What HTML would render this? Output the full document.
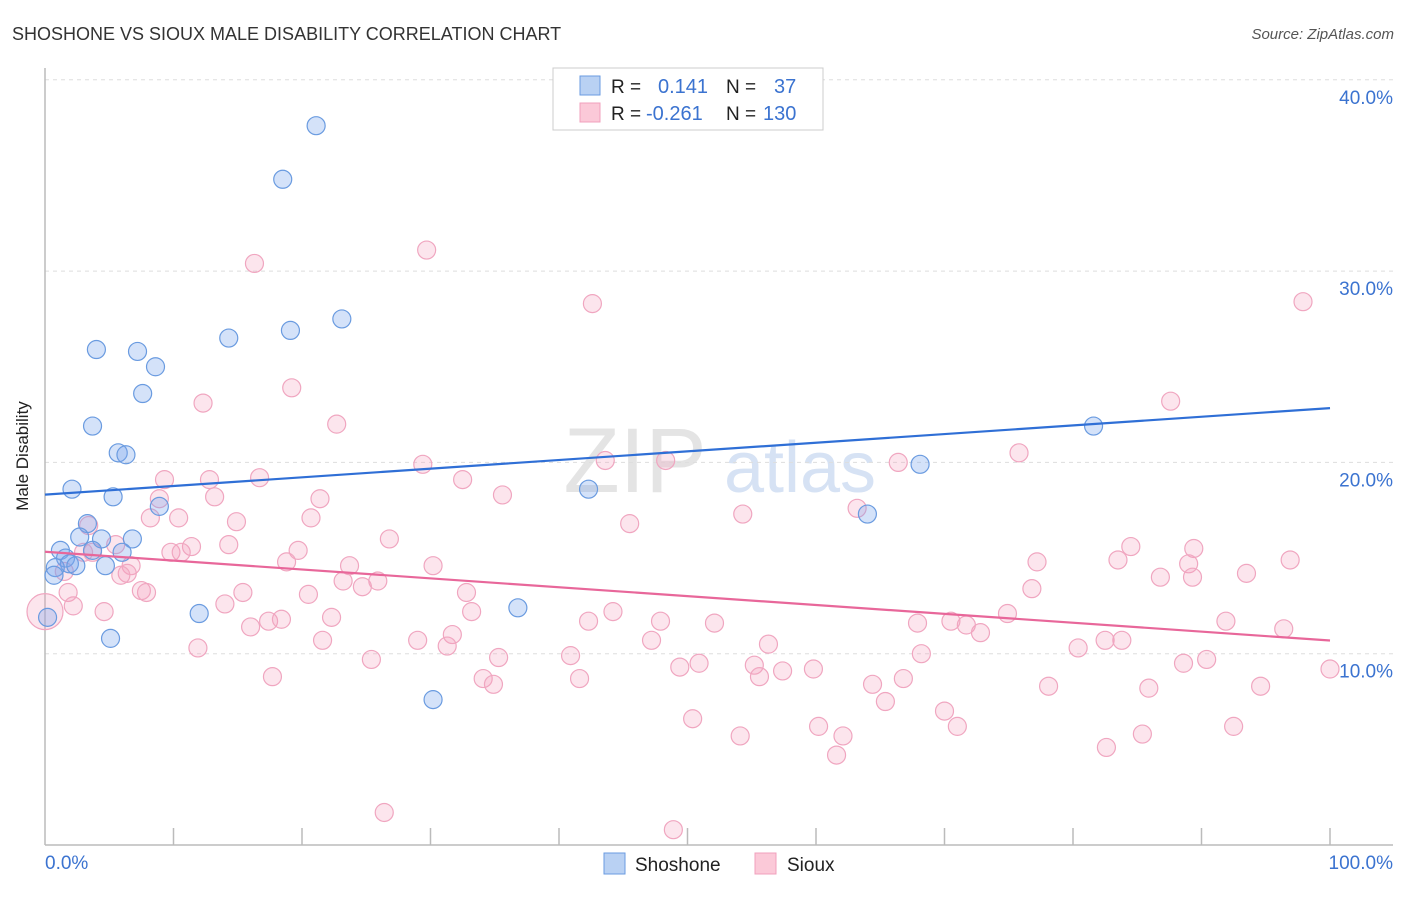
<!DOCTYPE html>
<html><head><meta charset="utf-8"><style>
body{margin:0;background:#fff;font-family:"Liberation Sans",sans-serif}
svg text{font-family:"Liberation Sans",sans-serif}
</style></head><body>
<svg id="c" width="1406" height="892" xmlns="http://www.w3.org/2000/svg">
<text x="12" y="40" font-size="18" fill="#333">SHOSHONE VS SIOUX MALE DISABILITY CORRELATION CHART</text>
<text x="1394" y="39" font-size="15" fill="#555" font-style="italic" text-anchor="end">Source: ZipAtlas.com</text>
<text x="28" y="456" font-size="17" fill="#222" transform="rotate(-90 28 456)" text-anchor="middle">Male Disability</text>
<g><text x="635" y="492" font-size="92" fill="#e4e4e4" font-family="Liberation Serif" text-anchor="middle">ZIP</text><text x="800" y="492" font-size="72" fill="#d6e2f4" text-anchor="middle">atlas</text></g>
<g id="grid"></g><g id="axes"></g><g id="pts"></g><g id="lines"></g>
<g>
<rect x="553" y="68" width="270" height="62" fill="#fff" stroke="#ccc"/>
<rect x="580" y="76" width="20" height="19" fill="#b9d1f3" stroke="#6a9be0"/>
<rect x="580" y="103" width="20" height="19" fill="#fbc9d8" stroke="#f0a0bc"/>
<text x="611" y="93" font-size="19" fill="#222">R =</text><text x="658" y="93" font-size="20" fill="#3b73d0">0.141</text>
<text x="726" y="93" font-size="19" fill="#222">N =</text><text x="774" y="93" font-size="20" fill="#3b73d0">37</text>
<text x="611" y="120" font-size="19" fill="#222">R =</text><text x="646" y="120" font-size="20" fill="#3b73d0">-0.261</text>
<text x="726" y="120" font-size="19" fill="#222">N =</text><text x="763" y="120" font-size="20" fill="#3b73d0">130</text>
</g>
<g>
<rect x="604" y="853" width="21" height="21" fill="#b9d1f3" stroke="#6a9be0"/><text x="635" y="871" font-size="19" fill="#222">Shoshone</text>
<rect x="755" y="853" width="21" height="21" fill="#fbc9d8" stroke="#f0a0bc"/><text x="787" y="871" font-size="19" fill="#222">Sioux</text>
</g>
</svg>
<script>
const shoX=[21.1,18.5,23.1,19.1,14.3,4.0,7.2,8.6,7.6,3.7,5.7,6.3,2.1,5.3,8.9,3.3,2.7,4.4,6.8,1.2,3.7,1.6,6.0,1.9,0.8,2.4,4.7,0.7,0.2,12.0,5.1,30.2,36.8,42.3,64.0,68.1,81.6];
const shoY=[37.6,34.8,27.5,26.9,26.5,25.9,25.8,25.0,23.6,21.9,20.5,20.4,18.6,18.2,17.7,16.8,16.1,16.0,16.0,15.4,15.4,15.0,15.3,14.7,14.5,14.6,14.6,14.1,11.9,12.1,10.8,7.6,12.4,18.6,17.3,19.9,21.9];
const siouxX=[16.3,29.7,42.6,97.9,19.2,12.3,22.7,87.6,75.8,66.4,48.3,43.6,29.4,32.5,35.6,16.7,12.8,9.3,8.9,13.2,21.4,63.2,54.3,45.5,8.2,10.4,14.9,20.7,26.8,3.4,11.4,14.3,19.7,9.8,10.6,5.5,3.0,1.5,3.7,23.7,30.2,83.5,84.5,89.4,77.2,89.0,96.9,18.8,6.7,6.4,5.9,86.8,89.3,93.5,76.8,23.2,25.9,24.7,7.5,7.9,15.4,20.5,32.8,1.8,2.2,4.6,14.0,22.3,33.2,44.2,74.9,91.9,96.4,16.0,17.4,18.4,42.3,47.9,52.1,67.9,70.5,71.7,72.8,31.7,29.0,21.6,31.3,47.2,56.3,82.5,83.8,11.9,25.4,35.3,40.9,49.4,50.9,55.2,57.4,59.8,68.2,80.4,88.6,90.4,17.7,34.1,34.9,41.6,55.6,64.4,66.8,78.1,85.9,94.6,65.4,70.0,50.4,60.2,71.0,54.1,62.1,82.6,85.4,92.5,61.6,26.4,48.9,100,0];
const siouxY=[30.4,31.1,28.3,28.4,23.9,23.1,22.0,23.2,20.5,20.0,20.1,20.1,19.9,19.1,18.3,19.2,19.1,19.1,18.1,18.2,18.1,17.6,17.3,16.8,17.1,17.1,16.9,17.1,16.0,16.7,15.6,15.7,15.4,15.3,15.3,15.7,15.3,14.3,15.3,14.6,14.6,14.9,15.6,15.5,14.8,14.7,14.9,14.8,14.6,14.2,14.1,14.0,14.0,14.2,13.4,13.8,13.8,13.5,13.3,13.2,13.2,13.1,13.2,13.2,12.5,12.2,12.6,11.9,12.2,12.2,12.1,11.7,11.3,11.4,11.7,11.8,11.7,11.7,11.6,11.6,11.7,11.5,11.1,11.0,10.7,10.7,10.4,10.7,10.5,10.7,10.7,10.3,9.7,9.8,9.9,9.3,9.5,9.4,9.1,9.2,10.0,10.3,9.5,9.7,8.8,8.7,8.4,8.7,8.8,8.4,8.7,8.3,8.2,8.3,7.5,7.0,6.6,6.2,6.2,5.7,5.7,5.1,5.8,6.2,4.7,1.7,0.8,9.2,12.2];
const yTicks=[10,20,30,40];
const xTickLabels=["0.0%","100.0%"];
const NS="http://www.w3.org/2000/svg";
const X0=45,X1=1330,Y0=845,YPX=19.13;
const sx=v=>X0+(X1-X0)*v/100, sy=v=>Y0-v*YPX;
function mk(p,t,a){const e=document.createElementNS(NS,t);for(const k in a)e.setAttribute(k,a[k]);document.getElementById(p).appendChild(e);return e;}
yTicks.forEach(t=>{
 const l=mk('grid','line',{x1:X0,x2:1393,y1:sy(t),y2:sy(t),stroke:'#ddd','stroke-dasharray':'4,4'});
 
 
 const tx=mk('grid','text',{x:1393,y:sy(t)+24,'font-size':19,fill:'#3b73d0','text-anchor':'end'});
 tx.textContent=t.toFixed(1)+'%';
 
 
});
mk('axes','line',{x1:X0,x2:X0,y1:68,y2:Y0,stroke:'#bbb','stroke-width':1.5});
mk('axes','line',{x1:X0,x2:1393,y1:Y0,y2:Y0,stroke:'#bbb','stroke-width':1.5});
for(let i=1;i<=10;i++){mk('axes','line',{x1:sx(i*10),x2:sx(i*10),y1:Y0,y2:Y0-17,stroke:'#bbb','stroke-width':1.5});}
[[0,'start',45],[100,'end',1393]].forEach((d,i)=>{const t=mk('axes','text',{x:d[2],y:869,'font-size':19,fill:'#3b73d0','text-anchor':d[1]});t.textContent=xTickLabels[i];
 
 });
function pts(xs,ys,fill,stroke,name){xs.forEach((x,i)=>{const big=(name==='sioux-point'&&x===0&&i===xs.length-1);
 const c=mk('pts','circle',{cx:sx(x),cy:sy(ys[i]),r:big?18:9,fill:fill,stroke:stroke,'stroke-width':1.2});
 
 });}
pts(siouxX,siouxY,'rgba(244,160,190,0.28)','#f0a6c0','sioux-point');
pts(shoX,shoY,'rgba(120,165,235,0.32)','#6a9be0','shoshone-point');
function fit(xs,ys){const n=xs.length;let mx=0,my=0;xs.forEach((x,i)=>{mx+=x;my+=ys[i]});mx/=n;my/=n;let a=0,b=0;xs.forEach((x,i)=>{a+=(x-mx)*(ys[i]-my);b+=(x-mx)*(x-mx)});const s=a/b;return [my-s*mx,my+s*(100-mx)];}
const fb=fit(shoX,shoY),fp=fit(siouxX,siouxY);
const lb=mk('lines','line',{x1:sx(0),x2:sx(100),y1:sy(fb[0]),y2:sy(fb[1]),stroke:'#2f6fd6','stroke-width':2.2});


const lp=mk('lines','line',{x1:sx(0),x2:sx(100),y1:sy(fp[0]),y2:sy(fp[1]),stroke:'#e8679a','stroke-width':2.2});


</script>
</body></html>
